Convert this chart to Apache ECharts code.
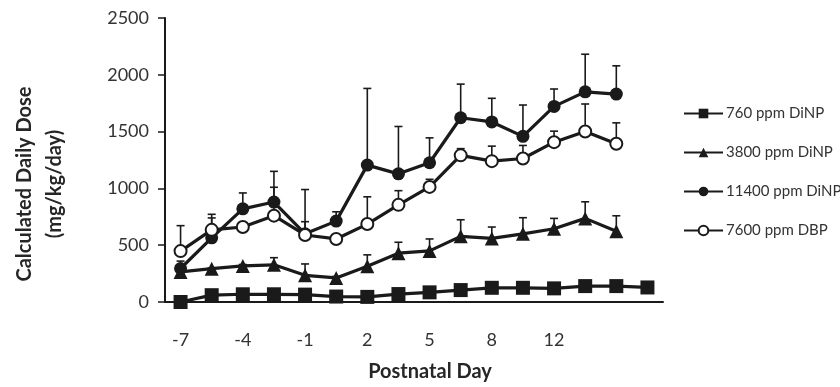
<!DOCTYPE html>
<html>
<head>
<meta charset="utf-8">
<script src="https://cdn.jsdelivr.net/npm/echarts@6/dist/echarts.min.js"></script>
<style>html,body{margin:0;padding:0;background:#fff}#c{width:840px;height:387px}</style>
</head>
<body>
<div id="c"></div>
<script>
// Postnatal day tick labels (every other category is labelled)
const xTickLabels = ['-7','','-4','','-1','','2','','5','','8','','12','','',''];
const yTicks = [0, 500, 1000, 1500, 2000, 2500];

const seriesNames = ['760 ppm DiNP', '3800 ppm DiNP', '11400 ppm DiNP', '7600 ppm DBP'];

const dose760 = [0, 60, 68, 68, 65, 48, 45, 70, 85, 105, 125, 125, 120, 140, 140, 128];
const dose3800 = [265, 293, 318, 327, 235, 212, 315, 430, 450, 578, 560, 600, 645, 736, 622];
const err3800 = [15, 7, 12, 63, 100, 13, 100, 96, 105, 146, 100, 142, 91, 146, 137];
const dose11400 = [295, 565, 820, 880, 600, 712, 1205, 1128, 1226, 1622, 1585, 1458, 1722, 1850, 1830];
const err11400 = [65, 207, 140, 270, 390, 82, 675, 417, 219, 296, 208, 276, 153, 331, 249];
const doseDBP = [448, 635, 660, 760, 590, 555, 686, 855, 1013, 1291, 1240, 1263, 1407, 1501, 1393];
const errDBP = [224, 105, 40, 250, 117, 25, 240, 125, 67, 59, 132, 115, 97, 242, 184];

const INK = '#1a1a1a';
const FONT = 'Lato';

function errData(means, errs) {
  return means.map((m, i) => [i, m, errs[i]]);
}
function errSeries(means, errs) {
  return {
    type: 'custom',
    silent: true,
    z: 1,
    data: errData(means, errs),
    renderItem: function (params, api) {
      const base = api.coord([api.value(0), api.value(1)]);
      const top = api.coord([api.value(0), api.value(1) + api.value(2)]);
      const st = { stroke: INK, lineWidth: 1.6 };
      return {
        type: 'group',
        children: [
          { type: 'line', shape: { x1: base[0], y1: base[1], x2: top[0], y2: top[1] }, style: st },
          { type: 'line', shape: { x1: top[0] - 4, y1: top[1], x2: top[0] + 4, y2: top[1] }, style: st }
        ]
      };
    }
  };
}
function lineSeries(name, data, symbol, size, fill) {
  return {
    name: name,
    type: 'line',
    data: data,
    z: 3,
    symbol: symbol,
    symbolSize: size,
    showAllSymbol: true,
    lineStyle: { color: INK, width: 3.2 },
    itemStyle: { color: fill, borderColor: INK, borderWidth: fill === '#ffffff' ? 2 : 0 },
    emphasis: { disabled: true },
    animation: false
  };
}

const chart = echarts.init(document.getElementById('c'), null, { renderer: 'canvas' });
chart.setOption({
  animation: false,
  backgroundColor: '#ffffff',
  grid: { left: 165, top: 18, width: 498, bottom: 83, containLabel: false },
  legend: {
    orient: 'vertical',
    left: 678,
    top: 101,
    itemWidth: 39,
    itemHeight: 12,
    itemGap: 24,
    data: seriesNames,
    textStyle: { fontFamily: FONT, fontSize: 15, color: '#333333', padding: [0, 0, 0, -2] }
  },
  xAxis: {
    type: 'category',
    data: xTickLabels,
    boundaryGap: true,
    axisLine: { lineStyle: { color: INK, width: 2 } },
    axisTick: { show: false },
    axisLabel: { interval: 0, margin: 29, fontFamily: FONT, fontSize: 18, color: '#333333' },
    splitLine: { show: false },
    name: 'Postnatal Day',
    nameLocation: 'middle',
    nameGap: 60,
    nameTextStyle: { fontFamily: FONT, fontSize: 20, fontWeight: 'bold', color: '#262626', padding: [0, 0, 0, 32] }
  },
  yAxis: {
    type: 'value',
    min: yTicks[0],
    max: yTicks[yTicks.length - 1],
    interval: yTicks[1] - yTicks[0],
    axisLine: { show: true, lineStyle: { color: INK, width: 2 } },
    axisTick: { show: true, length: 7, lineStyle: { color: INK, width: 1.5 } },
    axisLabel: { margin: 16, fontFamily: FONT, fontSize: 18, color: '#333333', formatter: function (v) { return String(v); } },
    splitLine: { show: false }
  },
  graphic: [{
    type: 'text',
    x: 40, y: 184,
    rotation: Math.PI / 2,
    style: {
      text: 'Calculated Daily Dose\n(mg/kg/day)',
      fontFamily: FONT, fontSize: 20, fontWeight: 'bold', fill: '#262626',
      lineHeight: 30, align: 'center', verticalAlign: 'middle'
    }
  }],
  series: [
    errSeries(dose3800, err3800),
    errSeries(dose11400, err11400),
    errSeries(doseDBP, errDBP),
    lineSeries(seriesNames[0], dose760, 'rect', 14, INK),
    lineSeries(seriesNames[1], dose3800, 'triangle', 14, INK),
    lineSeries(seriesNames[2], dose11400, 'circle', 13, INK),
    lineSeries(seriesNames[3], doseDBP, 'circle', 12, '#ffffff')
  ]
});
</script>
</body>
</html>
